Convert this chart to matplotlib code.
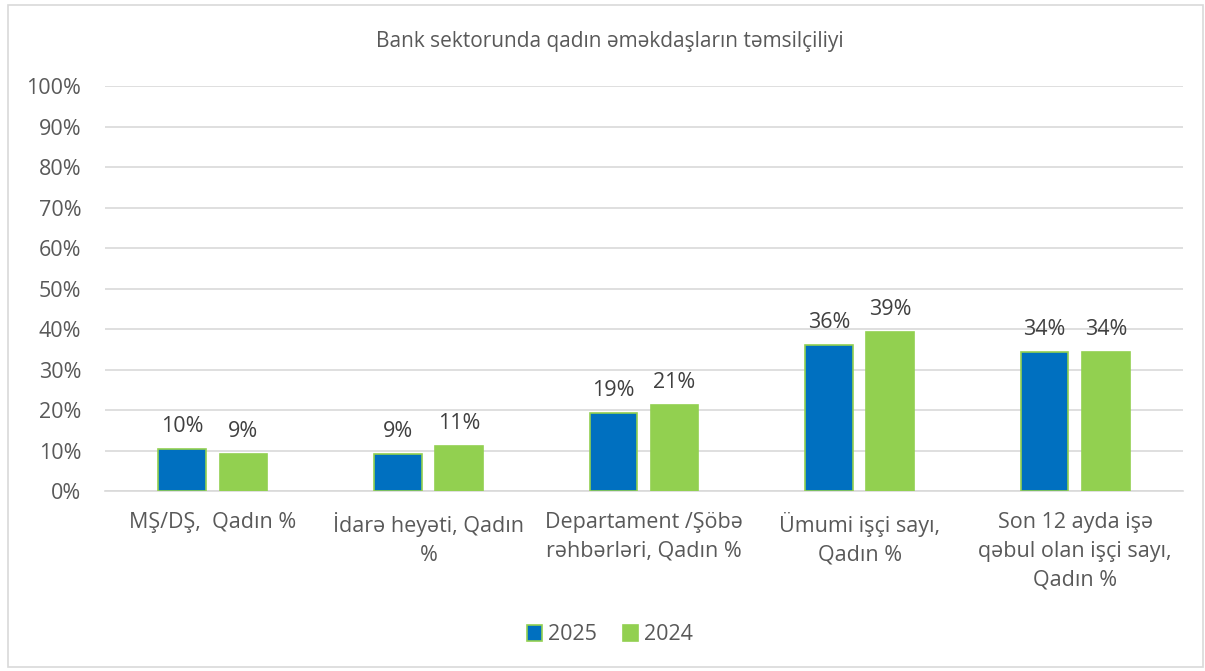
import matplotlib.pyplot as plt
import matplotlib.patches as patches
import numpy as np

plt.rcParams['font.family'] = ['Open Sans', 'DejaVu Sans']

categories = ["MŞ/DŞ,  Qadın %", "İdarə heyəti, Qadın\n%",
              "Departament /Şöbə\nrəhbərləri, Qadın %", "Ümumi işçi sayı,\nQadın %",
              "Son 12 ayda işə\nqəbul olan işçi sayı,\nQadın %"]
vals_2025 = [10.4, 9.1, 19.3, 36.0, 34.3]
vals_2024 = [9.1, 11.1, 21.2, 39.3, 34.3]
labels_2025 = ["10%", "9%", "19%", "36%", "34%"]
labels_2024 = ["9%", "11%", "21%", "39%", "34%"]

blue = '#0070C0'
green = '#92D050'
grid = '#D9D9D9'
txt = '#595959'

fig = plt.figure(figsize=(12.05, 6.71), dpi=100)
fig.patches.append(patches.Rectangle((8/1205, 4/671), 1195/1205, 662/671, transform=fig.transFigure,
                                     fill=False, edgecolor='#D9D9D9', linewidth=1.2))
ax = fig.add_axes([105/1205, 1 - 491/671, 1078/1205, 405/671])

x = np.arange(len(categories))
w = 0.22
off = 0.142
b1 = ax.bar(x - off, vals_2025, w, color=blue, edgecolor=green, linewidth=1.2, label='2025', zorder=3)
b2 = ax.bar(x + off, vals_2024, w, color=green, edgecolor=green, linewidth=1.2, label='2024', zorder=3)

# data labels
for i in range(len(x)):
    ax.text(x[i] - off, vals_2025[i] + 5.6, labels_2025[i], ha='center', va='center',
            fontsize=15.5, color='#404040')
    ax.text(x[i] + off, vals_2024[i] + 5.6, labels_2024[i], ha='center', va='center',
            fontsize=15.5, color='#404040')

ax.set_xlim(-0.5, len(x) - 0.5)
ax.set_ylim(0, 100)
ax.set_yticks(np.arange(0, 101, 10))
ax.set_yticklabels([f"{v}%" for v in range(0, 101, 10)])
ax.yaxis.grid(True, color=grid, linewidth=1.2, zorder=0)
ax.set_axisbelow(True)
for s in ['top', 'right', 'left']:
    ax.spines[s].set_visible(False)
ax.spines['bottom'].set_color(grid)
ax.spines['bottom'].set_linewidth(1.2)
ax.tick_params(axis='y', length=0, labelsize=15.5, colors=txt, pad=17)
ax.tick_params(axis='x', length=0, labelsize=15.5, colors=txt, pad=15)
ax.set_xticks(x)
ax.set_xticklabels(categories, linespacing=1.5)

fig.text(610/1205, 1 - 42/671, "Bank sektorunda qadın əməkdaşların təmsilçiliyi",
         ha='center', va='center', fontsize=15, color=txt)

fig.legend(handles=[b1, b2], labels=['2025', '2024'], loc='center',
           bbox_to_anchor=(610/1205, 1 - 635/671), ncol=2, frameon=False,
           fontsize=15.5, labelcolor=txt, handlelength=0.7, handleheight=0.7,
           handletextpad=0.3, columnspacing=1.2)

fig.savefig('out.png', dpi=100)
